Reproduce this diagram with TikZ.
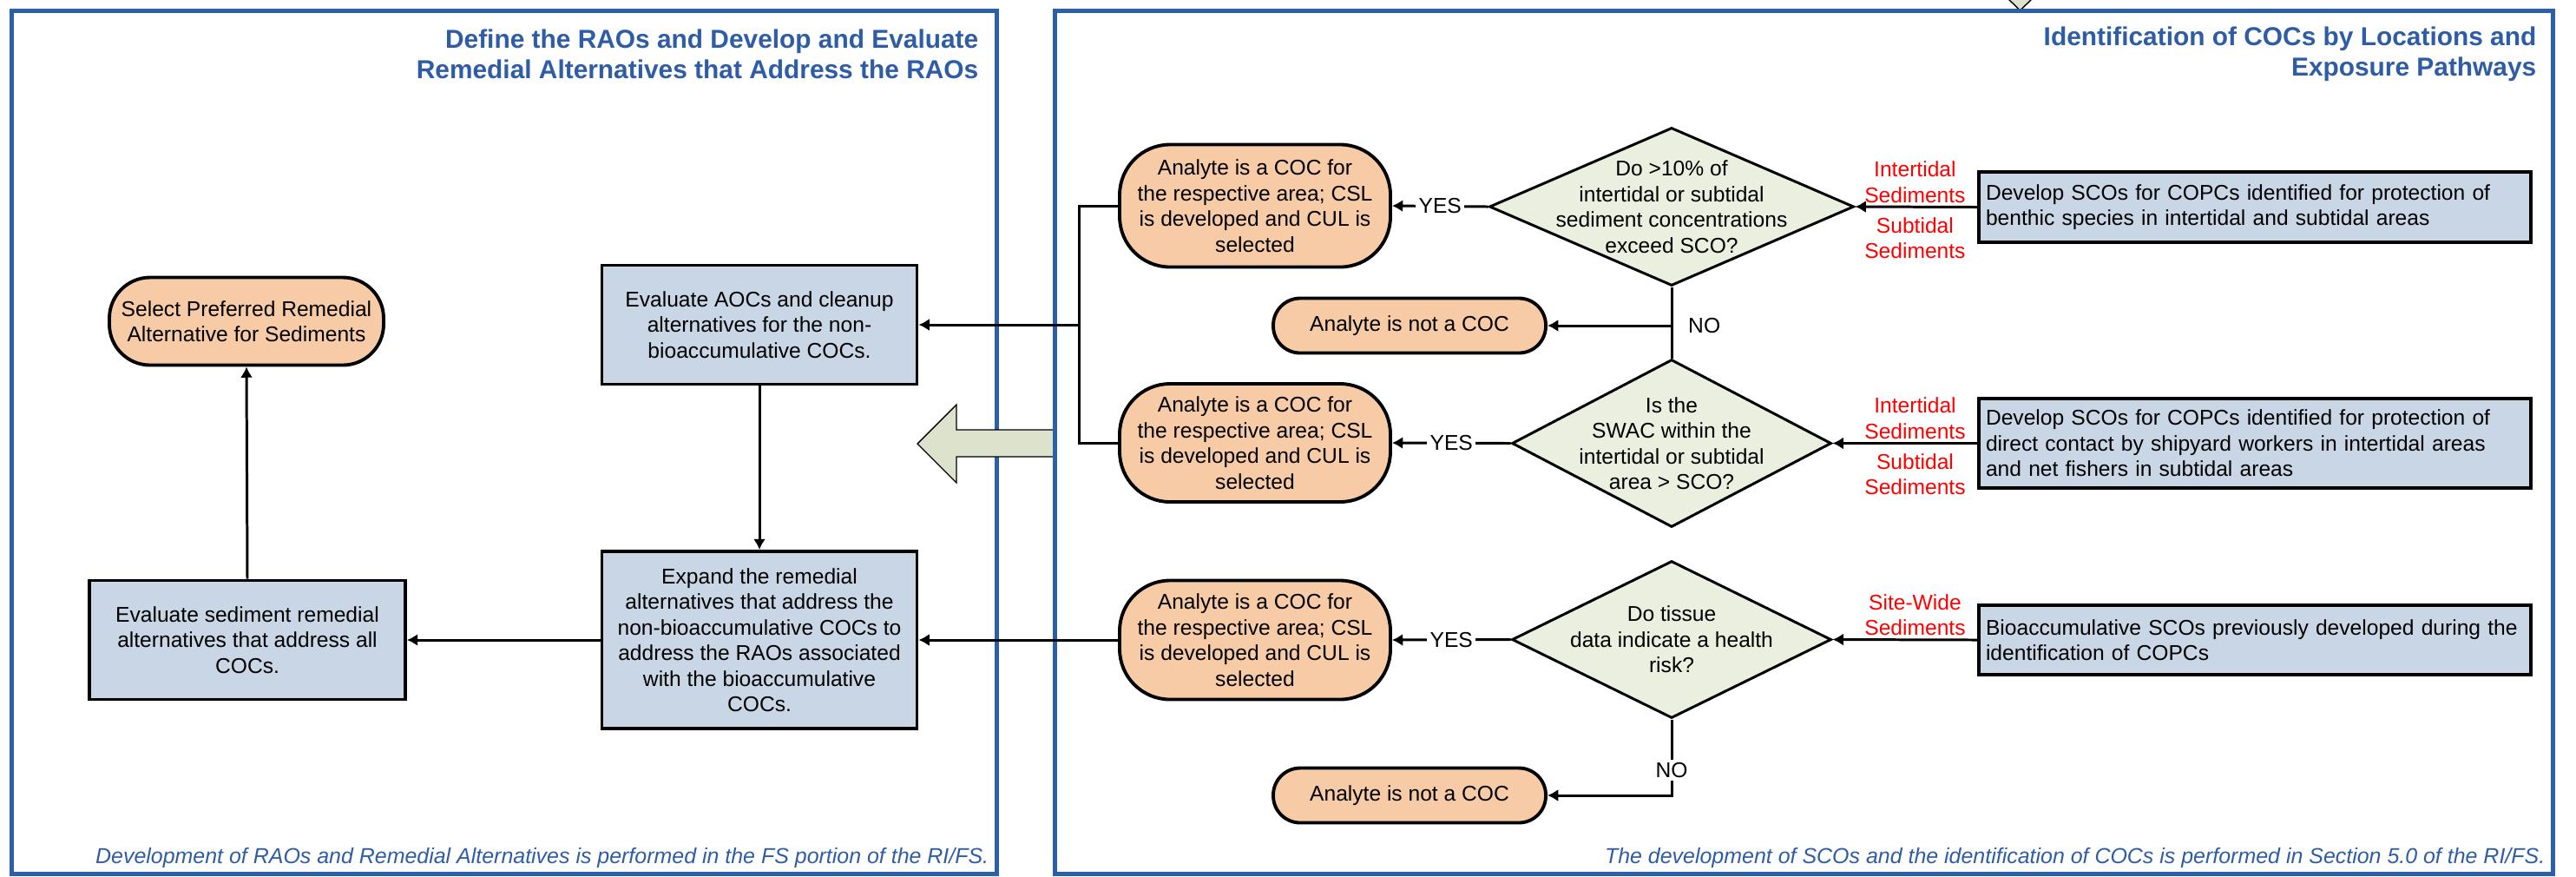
\documentclass[tikz,border=0pt]{standalone}
\usepackage{fontspec}
\setmainfont{Liberation Sans}
\usetikzlibrary{shapes.geometric,arrows.meta}
\definecolor{frameblue}{RGB}{43,95,168}
\definecolor{titleblue}{RGB}{46,92,165}
\definecolor{cocpeach}{RGB}{248,203,167}
\definecolor{stepblue}{RGB}{200,214,229}
\definecolor{askgreen}{RGB}{235,239,223}
\definecolor{bigarrow}{RGB}{221,226,204}
\newcommand{\leftll}[0]{(0.13, -10.06)}
\newcommand{\leftur}[0]{(11.48, -0.12)}
\newcommand{\rightll}[0]{(12.15, -10.06)}
\newcommand{\rightur}[0]{(29.41, -0.12)}
\newcommand{\cocmsg}[0]{Analyte is a COC for\\the respective area; CSL\\is developed and CUL is\\selected}
\newcommand{\notcocmsg}[0]{Analyte is not a COC}
\tikzset{
  frame/.style={draw=frameblue, line width=0.05cm},
  heading/.style={text=titleblue, font=\fontsize{8.5}{10}\selectfont\bfseries, align=right, inner sep=0pt, anchor=east},
  footnote/.style={text=titleblue, font=\fontsize{7.1}{8.5}\selectfont\itshape, inner sep=0pt, anchor=east},
  term/.style={draw, line width=1.1pt, fill=cocpeach, rounded corners=0.58cm, align=center, inner sep=0pt, minimum width=3.12cm, minimum height=1.37cm},
  shortterm/.style={term, rounded corners=0.31cm, minimum width=3.14cm, minimum height=0.63cm},
  stepbox/.style={draw, line width=1.1pt, fill=stepblue, align=center, inner sep=0pt, minimum width=3.63cm},
  scobox/.style={draw, line width=1.1pt, fill=stepblue, align=left, text width=6.2cm, inner xsep=0.08cm, inner ysep=0pt},
  decision/.style={diamond, draw, line width=0.85pt, fill=askgreen, inner sep=0pt},
  link/.style={line width=0.85pt},
  flow/.style={link, -{Latex[length=3.5pt,width=4pt]}},
  answer/.style={fill=white, inner sep=1pt},
  sedlabel/.style={text=red, align=center}
}
\begin{document}
\begin{tikzpicture}[font=\fontsize{7}{8.4}\selectfont]
\useasboundingbox (0,0) rectangle (29.68,-10.09);
\draw[frame] \leftll{} rectangle \leftur{};
\filldraw[fill=bigarrow, draw=black, line width=0.4pt] (10.57,-5.11) -- (11.02,-4.66) -- (11.02,-4.95) -- (12.14,-4.95) -- (12.14,-5.26) -- (11.02,-5.26) -- (11.02,-5.56) -- cycle;
\filldraw[fill=bigarrow, draw=black, line width=0.4pt] (23.10,0.05) -- (23.45,0.05) -- (23.275,-0.12) -- cycle;
\draw[frame] \rightll{} rectangle \rightur{};

\node[heading] (lefttitle) at (11.28,-0.625) {Define the RAOs and Develop and Evaluate\\Remedial Alternatives that Address the RAOs};
\node[heading] (righttitle) at (29.23,-0.625) {Identification of COCs by Locations and\\Exposure Pathways};
\node[footnote] (leftnote) at (11.40,-9.88) {Development of RAOs and Remedial Alternatives is performed in the FS portion of the RI/FS.};
\node[footnote] (rightnote) at (29.33,-9.88) {The development of SCOs and the identification of COCs is performed in Section 5.0 of the RI/FS.};

\node[term, rounded corners=0.47cm, minimum width=3.16cm, minimum height=1.01cm] (selpref) at (2.84,-3.70) {Select Preferred Remedial\\Alternative for Sediments};
\node[stepbox, minimum height=1.37cm] (evalaoc) at (8.75,-3.74) {Evaluate AOCs and cleanup\\alternatives for the non-\\bioaccumulative COCs.};
\node[stepbox, minimum width=3.64cm, minimum height=1.37cm] (evalsed) at (2.85,-7.37) {Evaluate sediment remedial\\alternatives that address all\\COCs.};
\node[stepbox, minimum height=2.04cm] (expand) at (8.75,-7.37) {Expand the remedial\\alternatives that address the\\non-bioaccumulative COCs to\\address the RAOs associated\\with the bioaccumulative\\COCs.};

\node[term, minimum height=1.41cm] (coca) at (14.46,-2.37) {\cocmsg};
\node[term, minimum height=1.36cm] (cocb) at (14.46,-5.10) {\cocmsg};
\node[term] (cocc) at (14.46,-7.37) {\cocmsg};
\node[shortterm] (notcoca) at (16.24,-3.75) {\notcocmsg};
\node[shortterm] (notcocb) at (16.24,-9.16) {\notcocmsg};

\node[decision, minimum width=4.20cm, minimum height=1.82cm, label={[align=center]center:Do >10\% of\\intertidal or subtidal\\sediment concentrations\\exceed SCO?}] (diaa) at (19.26,-2.38) {};
\node[decision, minimum width=3.68cm, minimum height=1.93cm, label={[align=center]center:Is the\\SWAC within the\\intertidal or subtidal\\area > SCO?}] (diab) at (19.26,-5.105) {};
\node[decision, minimum width=3.68cm, minimum height=1.81cm, label={[align=center]center:Do tissue\\data indicate a health\\risk?}] (diac) at (19.26,-7.365) {};

\node[scobox, minimum height=0.81cm] (scoa) at (25.98,-2.385) {Develop SCOs for COPCs identified for protection of\\benthic species in intertidal and subtidal areas};
\node[scobox, minimum height=1.03cm] (scob) at (25.98,-5.105) {Develop SCOs for COPCs identified for protection of\\direct contact by shipyard workers in intertidal areas\\and net fishers in subtidal areas};
\node[scobox, minimum height=0.80cm] (scoc) at (25.98,-7.37) {Bioaccumulative SCOs previously developed during the\\identification of COPCs};

\coordinate (join) at (12.43,-3.74);
\coordinate (nofork) at (diaa.south |- notcoca.east);
\coordinate (nobend) at (diac.south |- notcocb.east);

\draw[flow] (scoa.west) -- node[sedlabel, above, inner sep=1pt, pos=0.51] {Intertidal\\Sediments} node[sedlabel, below, inner sep=3pt, pos=0.51] {Subtidal\\Sediments} (diaa.east);
\draw[flow] (scob.west) -- node[sedlabel, above, inner sep=1pt, pos=0.43] {Intertidal\\Sediments} node[sedlabel, below, inner sep=3pt, pos=0.43] {Subtidal\\Sediments} (diab.east);
\draw[flow] (scoc.west) -- node[sedlabel, above, inner sep=1pt, pos=0.43] {Site-Wide\\Sediments} (diac.east);

\draw[flow] (diaa.west) -- node[answer] {YES} (coca.east);
\draw[flow] (diab.west) -- node[answer] {YES} (cocb.east);
\draw[flow] (diac.west) -- node[answer] {YES} (cocc.east);

\draw[link] (diaa.south) -- (diab.north);
\draw[flow] (nofork) node[right=0.06cm] {NO} -- (notcoca.east);
\draw[flow] (diac.south) -- node[answer, pos=0.67] {NO} (nobend) -- (notcocb.east);

\draw[flow] (coca.west) -| (join) -- (evalaoc.east);
\draw[link] (cocb.west) -| (join);
\draw[flow] (cocc.west) -- (expand.east);

\draw[flow] (evalaoc.south) -- (expand.north);
\draw[flow] (expand.west) -- (evalsed.east);
\draw[flow] (evalsed.north) -- (selpref.south);
\end{tikzpicture}
\end{document}
